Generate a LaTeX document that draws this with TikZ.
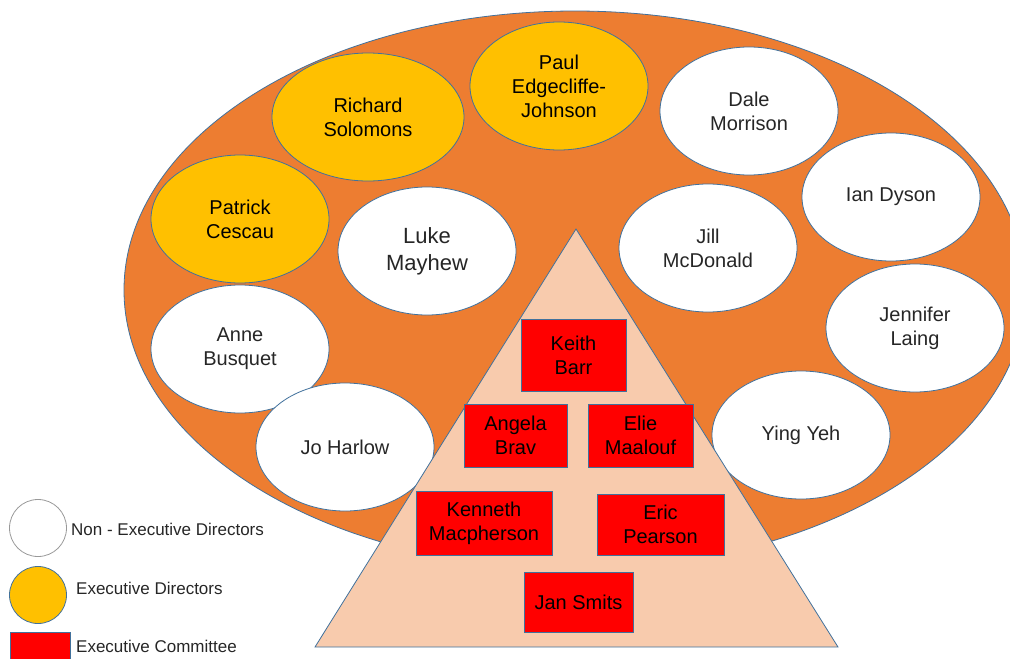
\documentclass[tikz,border=0pt]{standalone}
\usepackage{fontspec}
\setmainfont{Liberation Sans}
\usetikzlibrary{shapes.geometric}
\definecolor{naranja}{HTML}{ED7D31}
\definecolor{amarillo}{HTML}{FFC000}
\definecolor{piel}{HTML}{F8CBAD}
\definecolor{borde}{HTML}{41719C}
\definecolor{texto}{HTML}{262626}

\begin{document}
\begin{tikzpicture}[x=1pt, y=-1pt,
		nonexec/.style={ellipse, draw=borde, line width=.8pt, fill=white, text=texto,
			minimum width=178pt, minimum height=128pt, inner sep=0pt, align=center,
			font=\fontsize{20}{24}\selectfont},
		exec/.style={nonexec, fill=amarillo, text=black},
		comite/.style={rectangle, draw=borde, line width=.8pt, fill=red, text=black,
			inner sep=0pt, align=center, font=\fontsize{20}{24}\selectfont},
		leyenda/.style={anchor=west, inner sep=0pt, text=texto, font=\fontsize{17}{20}\selectfont}]
				\useasboundingbox (0,0) rectangle (1010,659);
				\clip (0,0) rectangle (1010,659);
				%Elipse grande
				\draw[borde, line width=.8pt, fill=naranja] (575,290) ellipse (451pt and 279pt);
				%Directores ejecutivos
				\node[exec] (solomons) at (368,117) [minimum width=192pt] {Richard\\Solomons};
				\node[exec] (cescau) at (240,219) {Patrick\\Cescau};
				\node[exec] (johnson) at (559,86) {Paul\\Edgecliffe-\\Johnson};
				%Directores no ejecutivos
				\node[nonexec] (mayhew) at (427,251) [font=\fontsize{22}{27}\selectfont] {Luke\\Mayhew};
				\node[nonexec] (morrison) at (749,111) {Dale\\Morrison};
				\node[nonexec] (dyson) at (891,197) {Ian Dyson};
				\node[nonexec] (mcdonald) at (708,248) {Jill\\McDonald};
				\node[nonexec] (laing) at (915,328) {Jennifer\\Laing};
				\node[nonexec] (yeh) at (801,435) {Ying Yeh};
				\node[nonexec] (busquet) at (240,349) {Anne\\Busquet};
				\node[nonexec] (harlow) at (345,447) {Jo Harlow};
				%Piramide
				\draw[borde, line width=.8pt, fill=piel] (576,229)--(838,647)--(315,647)--cycle;
				%Comite ejecutivo
				\node[comite, minimum width=105pt, minimum height=72pt] (barr) at (573.5,355) {Keith\\Barr};
				\node[comite, minimum width=103pt, minimum height=63pt] (brav) at (515.5,435.5) {Angela\\Brav};
				\node[comite, minimum width=105pt, minimum height=63pt] (maalouf) at (640.5,435.5) {Elie\\Maalouf};
				\node[comite, minimum width=136pt, minimum height=64pt] (macpherson) at (484,523) {Kenneth\\Macpherson};
				\node[comite, minimum width=127pt, minimum height=61pt] (pearson) at (660.5,524.5) {Eric\\Pearson};
				\node[comite, minimum width=109pt, minimum height=60pt] (smits) at (578.5,602) {Jan Smits};
				%Leyenda
				\draw[gray!80, line width=.8pt, fill=white] (38,528) circle (28.5pt);
				\node[leyenda] (lnonexec) at (71,529) {Non - Executive Directors};
				\draw[borde, line width=.8pt, fill=amarillo] (38,595) circle (28.5pt);
				\node[leyenda] (lexec) at (76,588) {Executive Directors};
				\draw[borde, line width=.8pt, fill=red] (10,632) rectangle (70,670);
				\node[leyenda] (lcomite) at (76,646) {Executive Committee};
\end{tikzpicture}
\end{document}
